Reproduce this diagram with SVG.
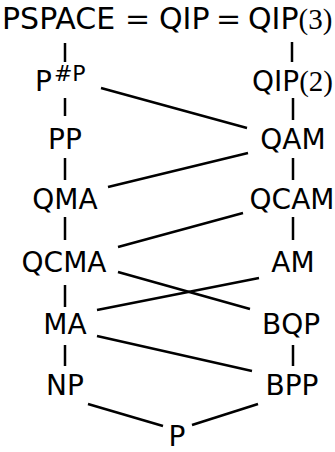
<svg xmlns="http://www.w3.org/2000/svg" width="335" height="452" viewBox="0 0 335 452">
<style>
.t{font-family:"DejaVu Sans",sans-serif;font-size:28px;fill:#000}
.big{font-size:30px}
.c{text-anchor:middle}
.s{font-family:"Liberation Serif",serif;font-size:29px}
.e{font-family:"DejaVu Serif",serif}
.sup{font-size:22px}
#edges line{stroke:#000;stroke-width:2.5;stroke-linecap:butt}
</style>
<rect width="335" height="452" fill="#fff"/>
<g id="edges">
<line x1="65" y1="43" x2="65" y2="62"/>
<line x1="292" y1="42" x2="292" y2="62"/>
<line x1="65" y1="98" x2="65" y2="116"/>
<line x1="293" y1="98" x2="293" y2="120"/>
<line x1="101" y1="88" x2="247" y2="128"/>
<line x1="65" y1="158" x2="65" y2="180"/>
<line x1="293" y1="158" x2="293" y2="180"/>
<line x1="248" y1="153" x2="108" y2="187"/>
<line x1="65" y1="217" x2="65" y2="240"/>
<line x1="293" y1="217" x2="293" y2="240"/>
<line x1="243" y1="213" x2="118" y2="247"/>
<line x1="65" y1="285" x2="65" y2="307"/>
<line x1="118" y1="272" x2="250" y2="309"/>
<line x1="97" y1="310" x2="259" y2="278"/>
<line x1="65" y1="345" x2="65" y2="366"/>
<line x1="293" y1="345" x2="293" y2="366"/>
<line x1="97" y1="336" x2="252" y2="371"/>
<line x1="88" y1="404" x2="163" y2="426"/>
<line x1="258" y1="404" x2="192" y2="425"/>
</g>
<g id="top"><text class="t big" y="29"><tspan x="2">PSPACE</tspan><tspan class="e" x="125">=</tspan><tspan x="159">QIP</tspan><tspan class="e" x="216">=</tspan><tspan x="248">QIP</tspan><tspan class="s">(3)</tspan></text></g>
<g id="psharpp"><text class="t" y="91"><tspan x="35">P</tspan><tspan class="sup" dx="2" dy="-10">#P</tspan></text></g>
<g id="qip2"><text class="t" x="252" y="91">QIP<tspan class="s">(2)</tspan></text></g>
<g id="pp"><text class="t c" x="65" y="149">PP</text></g>
<g id="qam"><text class="t c" x="293" y="149">QAM</text></g>
<g id="qma"><text class="t c" x="65" y="209">QMA</text></g>
<g id="qcam"><text class="t c" x="292" y="209">QCAM</text></g>
<g id="qcma"><text class="t c" x="64" y="272">QCMA</text></g>
<g id="am"><text class="t c" x="293" y="272">AM</text></g>
<g id="ma"><text class="t c" x="65" y="334">MA</text></g>
<g id="bqp"><text class="t c" x="291" y="334">BQP</text></g>
<g id="np"><text class="t c" x="65" y="395">NP</text></g>
<g id="bpp"><text class="t c" x="292" y="395">BPP</text></g>
<g id="p"><text class="t c" x="177" y="446">P</text></g>
</svg>
